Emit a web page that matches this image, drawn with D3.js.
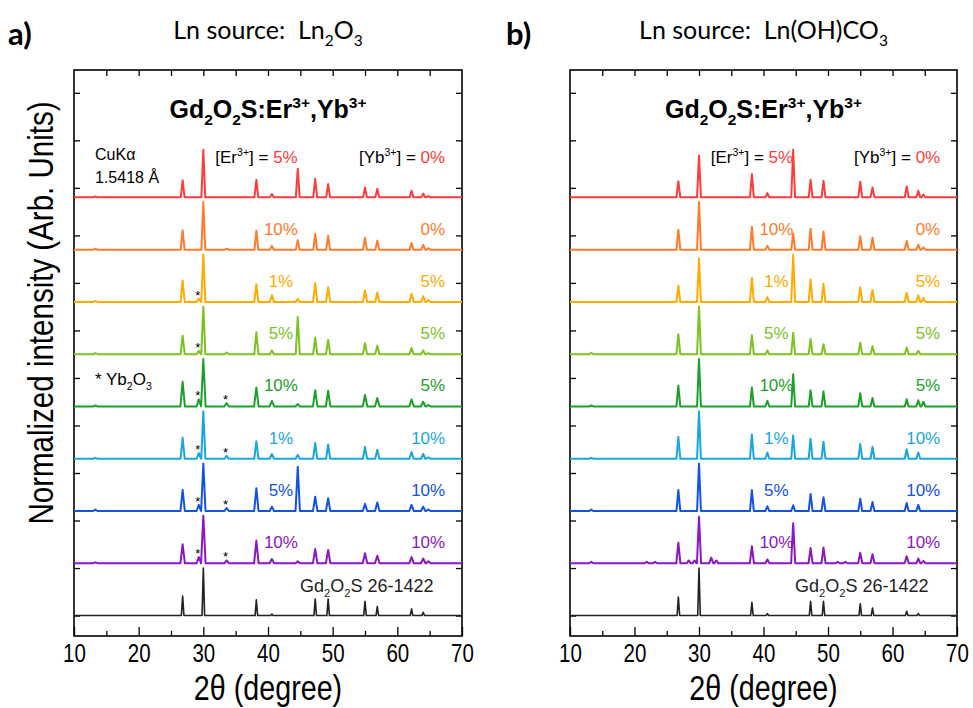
<!DOCTYPE html>
<html>
<head>
<meta charset="utf-8">
<script src="https://cdn.jsdelivr.net/npm/d3@7"></script>
<style>
body { margin: 0; background: #fff; }
svg { display: block; }
text { font-family: Arial, "Liberation Sans", sans-serif; }
</style>
</head>
<body>
<svg id="chart" width="973" height="708"></svg>
<script>
// peak positions (2theta, degree) shared by all the patterns
var peakPos = [13.3, 21.9, 23.2, 26.8, 28.4, 29.3, 30.0, 31.9, 32.7, 33.6, 38.2, 40.6, 44.6,
               47.3, 49.3, 51.5, 52.7, 55.0, 56.9, 62.2, 64.0, 64.8];

// panel a) Ln2O3 source, normalized peak heights (top row first)
var aRed    = [0.02,0,0,0.36,0,0,1.00,0,0,0,   0.37,0.07,0.60,0.39,0.28,0,0,0.21,0.18,0.14,0.08,0.03];
var aOrange = [0.02,0,0,0.41,0,0,1.00,0,0,0.02,0.40,0.08,0.20,0.33,0.29,0,0,0.25,0.19,0.14,0.10,0.03];
var aYellow = [0.02,0,0,0.45,0,0.07,1.00,0,0,0,0.37,0.14,0.06,0.40,0.31,0,0,0.24,0.20,0.17,0.12,0.04];
var aLgreen = [0.02,0,0,0.39,0,0.07,1.00,0,0,0.035,0.46,0.08,0.78,0.35,0.30,0,0,0.23,0.18,0.13,0.08,0.02];
var aGreen  = [0.02,0,0,0.52,0,0.15,1.00,0,0,0.07,0.40,0.12,0.05,0.34,0.33,0,0,0.24,0.18,0.15,0.10,0.03];
var aCyan   = [0.02,0,0,0.44,0,0.12,1.00,0,0,0.06,0.37,0.10,0.08,0.33,0.30,0,0,0.25,0.19,0.14,0.10,0.03];
var aBlue   = [0.03,0,0,0.44,0,0.13,1.00,0,0,0.06,0.48,0.09,0.93,0.30,0.27,0,0,0.15,0.18,0.13,0.09,0.03];
var aPurple = [0.02,0,0,0.40,0,0.13,1.00,0,0,0.06,0.48,0.09,0.04,0.30,0.28,0,0,0.21,0.16,0.13,0.10,0.04];
var aBlack  = [0,0,0,0.41,0,0,1.00,0,0,0,      0.33,0.03,0,   0.35,0.35,0,0,0.30,0.19,0.14,0.07,0];

// panel b) Ln(OH)CO3 source
var bRed    = [0,0,0,0.34,0,0,0.88,0,0,0,   0.49,0.09,1.00,0.37,0.35,0,0,0.33,0.21,0.23,0.14,0.06];
var bOrange = [0,0,0,0.42,0,0,1.00,0,0,0,   0.48,0.08,0.34,0.44,0.38,0,0,0.28,0.25,0.18,0.10,0.05];
var bYellow = [0,0,0,0.34,0,0,0.92,0,0,0,   0.51,0.10,1.00,0.47,0.38,0,0,0.31,0.25,0.19,0.14,0.08];
var bLgreen = [0.03,0,0,0.42,0,0,1.00,0,0,0,0.40,0.08,0.45,0.32,0.21,0,0,0.24,0.17,0.14,0.07,0];
var bGreen  = [0.02,0,0,0.44,0,0,1.00,0,0,0,0.40,0.12,0.68,0.34,0.32,0,0,0.28,0.18,0.15,0.13,0.10];
var bCyan   = [0.02,0,0,0.46,0,0,1.00,0,0,0,0.51,0.13,0.49,0.42,0.36,0,0,0.31,0.25,0.20,0.13,0];
var bBlue   = [0.03,0,0,0.44,0,0,1.00,0,0,0,0.44,0.10,0.12,0.36,0.29,0,0,0.26,0.19,0.17,0.13,0];
var bPurple = [0.03,0.03,0.03,0.43,0.06,0.06,0.98,0.12,0.06,0,0.36,0.08,0.84,0.32,0.33,0.03,0.03,0.22,0.19,0.15,0.10,0.05];
var bBlack  = [0,0,0,0.39,0,0,1.00,0,0,0,   0.28,0.04,0,   0.30,0.30,0,0,0.25,0.16,0.09,0.04,0];

var seriesColors = ["#ff3c3c", "#ff7b2c", "#ffab00", "#7dc21f", "#1ba12a", "#19a6dc", "#1452e0", "#8c16c4", "#222222"];
var erLabels = ["5%", "10%", "1%", "5%", "10%", "1%", "5%", "10%"];
var ybLabels = ["0%", "0%", "5%", "5%", "5%", "10%", "10%", "10%"];
// Yb2O3 impurity marks in panel a: [row, 2theta]
var starMarks = [[2, 29.3], [3, 29.3], [4, 29.3], [4, 33.6], [5, 29.3], [5, 33.6],
                 [6, 29.3], [6, 33.6], [7, 29.3], [7, 33.6]];
var xMajor = [10, 20, 30, 40, 50, 60, 70];
var xMinor = [15, 25, 35, 45, 55, 65];

var svg = d3.select("#chart");
var rowStep = 1.1;

var y = d3.scaleLinear().domain([-0.43, 11.48]).range([636, 70]);

function richText(sel, parts, size) {
    var cur = 0;
    parts.forEach(function(p) {
        var shift = p[1] == "sub" ? size * 0.28 : (p[1] == "sup" ? -size * 0.42 : 0);
        var t = sel.append("tspan")
            .attr("dy", shift - cur)
            .style("font-size", (p[1] == "n" ? size : size * 0.62) + "px")
            .text(p[0]);
        if (p[2]) t.attr("fill", p[2]);
        cur = shift;
    });
}

function drawPanel(opts) {
    var x = d3.scaleLinear().domain([10, 70]).range([opts.left, opts.right]);
    var mid = (opts.left + opts.right) / 2;
    var g = svg.append("g");

    // panel letter and heading
    g.append("text").attr("x", opts.letterX).attr("y", 45)
        .style("font-family", "Lato, 'Open Sans', sans-serif")
        .style("font-weight", "bold").style("font-size", "31px").text(opts.letter);
    var head = g.append("text").attr("x", mid).attr("y", 39)
        .attr("text-anchor", "middle")
        .style("font-family", "Lato, 'Open Sans', sans-serif")
        .style("white-space", "pre");
    richText(head, opts.heading, 25);

    // axes, ticks inward
    function clean(a) { a.select(".domain").remove(); a.selectAll("line").attr("stroke-width", 1.3); }
    g.append("g").attr("transform", "translate(0,636)")
        .call(d3.axisBottom(x).tickValues(xMinor).tickSize(-5).tickFormat("")).call(clean);
    var bottom = g.append("g").attr("transform", "translate(0,636)")
        .call(d3.axisBottom(x).tickValues(xMajor).tickSizeInner(-9).tickSizeOuter(0).tickPadding(8));
    clean(bottom);
    bottom.attr("font-family", null);
    bottom.selectAll("text").style("font-size", "25px").attr("fill", "#000")
        .attr("transform", "scale(0.82,1)");
    g.append("g").attr("transform", "translate(0,70)")
        .call(d3.axisTop(x).tickValues(xMinor.concat(xMajor.slice(1, 6))).tickSize(-6).tickFormat("")).call(clean);
    g.append("g").attr("transform", "translate(" + opts.left + ",0)")
        .call(d3.axisLeft(y).tickValues(d3.range(0, 12)).tickSize(-6).tickFormat("")).call(clean);
    g.append("g").attr("transform", "translate(" + opts.right + ",0)")
        .call(d3.axisRight(y).tickValues(d3.range(0, 12)).tickSize(-6).tickFormat("")).call(clean);

    g.append("rect").attr("x", opts.left).attr("y", 70)
        .attr("width", opts.right - opts.left).attr("height", 566)
        .attr("fill", "none").attr("stroke", "#000").attr("stroke-width", 1.6);

    // patterns
    var line = d3.line().x(function(d) { return x(d[0]); }).y(function(d) { return y(d[1]); });
    opts.series.forEach(function(hs, i) {
        var base = (8 - i) * rowStep;
        var w = Math.min(opts.widths[i], 0.35);
        var pts = [[10, base], [70, base]];
        hs.forEach(function(h, k) {
            if (h <= 0) return;
            pts.push([peakPos[k] - w, base], [peakPos[k], base + h], [peakPos[k] + w, base]);
        });
        pts.sort(function(a, b) { return a[0] - b[0]; });
        g.append("path").attr("d", line(pts))
            .attr("fill", "none").attr("stroke", seriesColors[i])
            .attr("stroke-width", i == 8 ? 1.6 : 2).attr("stroke-linejoin", "round");
    });

    // row labels
    var first = g.append("text").attr("x", x(44.6)).attr("y", y(8 * rowStep) - 34)
        .attr("text-anchor", "end");
    richText(first, [["[Er", "n"], ["3+", "sup"], ["] = ", "n"], [erLabels[0], "n", seriesColors[0]]], 17);
    var firstYb = g.append("text").attr("x", x(67.4)).attr("y", y(8 * rowStep) - 34)
        .attr("text-anchor", "end");
    richText(firstYb, [["[Yb", "n"], ["3+", "sup"], ["] = ", "n"], [ybLabels[0], "n", seriesColors[0]]], 17);
    for (var i = 1; i < 8; i++) {
        var yy = y((8 - i) * rowStep) - 15;
        g.append("text").attr("x", x(42)).attr("y", yy).attr("text-anchor", "middle")
            .attr("fill", seriesColors[i]).style("font-size", "17px").text(erLabels[i]);
        g.append("text").attr("x", x(67.4)).attr("y", yy).attr("text-anchor", "end")
            .attr("fill", seriesColors[i]).style("font-size", "17px").text(ybLabels[i]);
    }

    var ref = g.append("text").attr("x", x(65.6)).attr("y", 592).attr("text-anchor", "end")
        .attr("fill", "#222");
    richText(ref, [["Gd", "n"], ["2", "sub"], ["O", "n"], ["2", "sub"], ["S 26-1422", "n"]], 18);

    var title = g.append("text").attr("x", mid).attr("y", 118).attr("text-anchor", "middle")
        .style("font-weight", "bold");
    richText(title, [["Gd", "n"], ["2", "sub"], ["O", "n"], ["2", "sub"], ["S:Er", "n"], ["3+", "sup"],
                     [",Yb", "n"], ["3+", "sup"]], 25);

    g.append("text").attr("transform", "translate(" + mid + ",700) scale(0.82,1)")
        .attr("text-anchor", "middle").style("font-size", "35px").text("2\u03b8 (degree)");

    return { g: g, x: x };
}

var pa = drawPanel({
    left: 74, right: 462, letter: "a)", letterX: 8,
    heading: [["Ln source:  Ln", "n"], ["2", "sub"], ["O", "n"], ["3", "sub"]],
    series: [aRed, aOrange, aYellow, aLgreen, aGreen, aCyan, aBlue, aPurple, aBlack],
    widths: [0.3, 0.3, 0.32, 0.32, 0.35, 0.32, 0.34, 0.35, 0.2]
});
var pb = drawPanel({
    left: 570, right: 957, letter: "b)", letterX: 506,
    heading: [["Ln source:  Ln(OH)CO", "n"], ["3", "sub"]],
    series: [bRed, bOrange, bYellow, bLgreen, bGreen, bCyan, bBlue, bPurple, bBlack],
    widths: [0.3, 0.3, 0.3, 0.3, 0.3, 0.3, 0.3, 0.32, 0.2]
});

// extra notes in panel a
pa.g.append("text").attr("x", 95).attr("y", 160).style("font-size", "16px").text("CuK\u03b1");
pa.g.append("text").attr("x", 95).attr("y", 183).style("font-size", "16px").text("1.5418 \u00c5");
var yb = pa.g.append("text").attr("x", 95).attr("y", 385);
richText(yb, [["* Yb", "n"], ["2", "sub"], ["O", "n"], ["3", "sub"]], 17);

var starRows = [aRed, aOrange, aYellow, aLgreen, aGreen, aCyan, aBlue, aPurple];
starMarks.forEach(function(s) {
    var h = starRows[s[0]][peakPos.indexOf(s[1])];
    pa.g.append("text").attr("x", pa.x(s[1]) - 1).attr("y", y((8 - s[0]) * rowStep + h) + 1)
        .attr("text-anchor", "middle").style("font-size", "13px").text("*");
});

// y axis title
svg.append("text").attr("transform", "translate(53,313) rotate(-90) scale(0.82,1)")
    .attr("text-anchor", "middle").style("font-size", "36px")
    .text("Normalized intensity (Arb. Units)");
</script>
</body>
</html>
